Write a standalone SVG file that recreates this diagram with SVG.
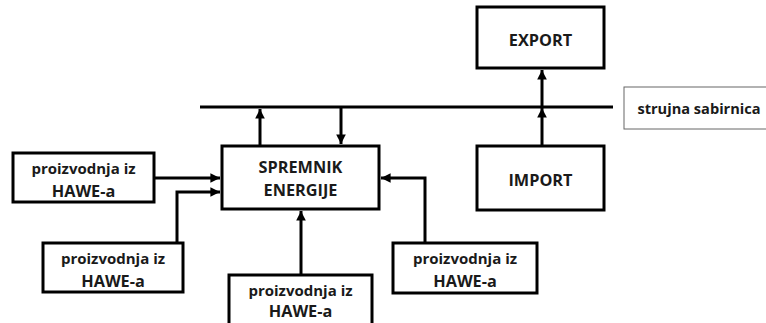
<svg xmlns="http://www.w3.org/2000/svg" width="766" height="323" viewBox="0 0 766 323">
<style>
.box{fill:#fff;stroke:#000;stroke-width:3}
.t{font-family:"Open Sans","Liberation Sans",sans-serif;font-weight:700;font-size:15px;fill:#1a1a1a;text-anchor:middle;dominant-baseline:central}
.u{font-size:16.3px}
.c{fill:none;stroke:#000;stroke-width:3}
</style>
<defs>
<marker id="ah" viewBox="0 0 10 10" refX="10" refY="5" markerWidth="3.2" markerHeight="3.2" orient="auto" markerUnits="strokeWidth">
<path d="M0,0 L10,5 L0,10 z" fill="#000"/>
</marker>
</defs>
<g id="connectors">
<line class="c" x1="200" y1="107" x2="613" y2="107"/>
<line class="c" x1="260" y1="146" x2="260" y2="109" marker-end="url(#ah)"/>
<line class="c" x1="341" y1="107" x2="341" y2="144" marker-end="url(#ah)"/>
<line class="c" x1="154" y1="178" x2="220" y2="178" marker-end="url(#ah)"/>
<polyline class="c" points="177,243 177,192 220,192" marker-end="url(#ah)"/>
<line class="c" x1="301" y1="275" x2="301" y2="211" marker-end="url(#ah)"/>
<polyline class="c" points="425,243 425,178 381,178" marker-end="url(#ah)"/>
<line class="c" x1="542" y1="146" x2="542" y2="108" marker-end="url(#ah)"/>
<line class="c" x1="542" y1="107" x2="542" y2="70" marker-end="url(#ah)"/>
</g>
<g id="spremnik">
<rect class="box" x="222" y="146" width="157" height="63"/>
<text class="t u" x="300.5" y="167">SPREMNIK</text>
<text class="t u" x="300.5" y="190">ENERGIJE</text>
</g>
<g id="hawe1">
<rect class="box" x="13" y="153" width="141" height="49"/>
<text class="t" x="83.5" y="168">proizvodnja iz</text>
<text class="t u" x="83.5" y="191">HAWE-a</text>
</g>
<g id="hawe2">
<rect class="box" x="43" y="243" width="140" height="49"/>
<text class="t" x="113" y="258">proizvodnja iz</text>
<text class="t u" x="113" y="281">HAWE-a</text>
</g>
<g id="hawe3">
<rect class="box" x="229" y="275" width="143" height="52"/>
<text class="t" x="300.5" y="290">proizvodnja iz</text>
<text class="t u" x="300.5" y="311">HAWE-a</text>
</g>
<g id="hawe4">
<rect class="box" x="393" y="243" width="144" height="50"/>
<text class="t" x="465" y="258">proizvodnja iz</text>
<text class="t u" x="465" y="281">HAWE-a</text>
</g>
<g id="export">
<rect class="box" x="477" y="7" width="127" height="61"/>
<text class="t u" x="540.5" y="40">EXPORT</text>
</g>
<g id="import">
<rect class="box" x="477" y="146" width="127" height="64"/>
<text class="t u" x="540.5" y="180">IMPORT</text>
</g>
<g id="bus-label">
<rect x="624" y="87" width="145" height="42" fill="#fff" stroke="#666" stroke-width="1"/>
<text class="t" x="699" y="108" style="font-size:14.6px">strujna sabirnica</text>
</g>
</svg>
